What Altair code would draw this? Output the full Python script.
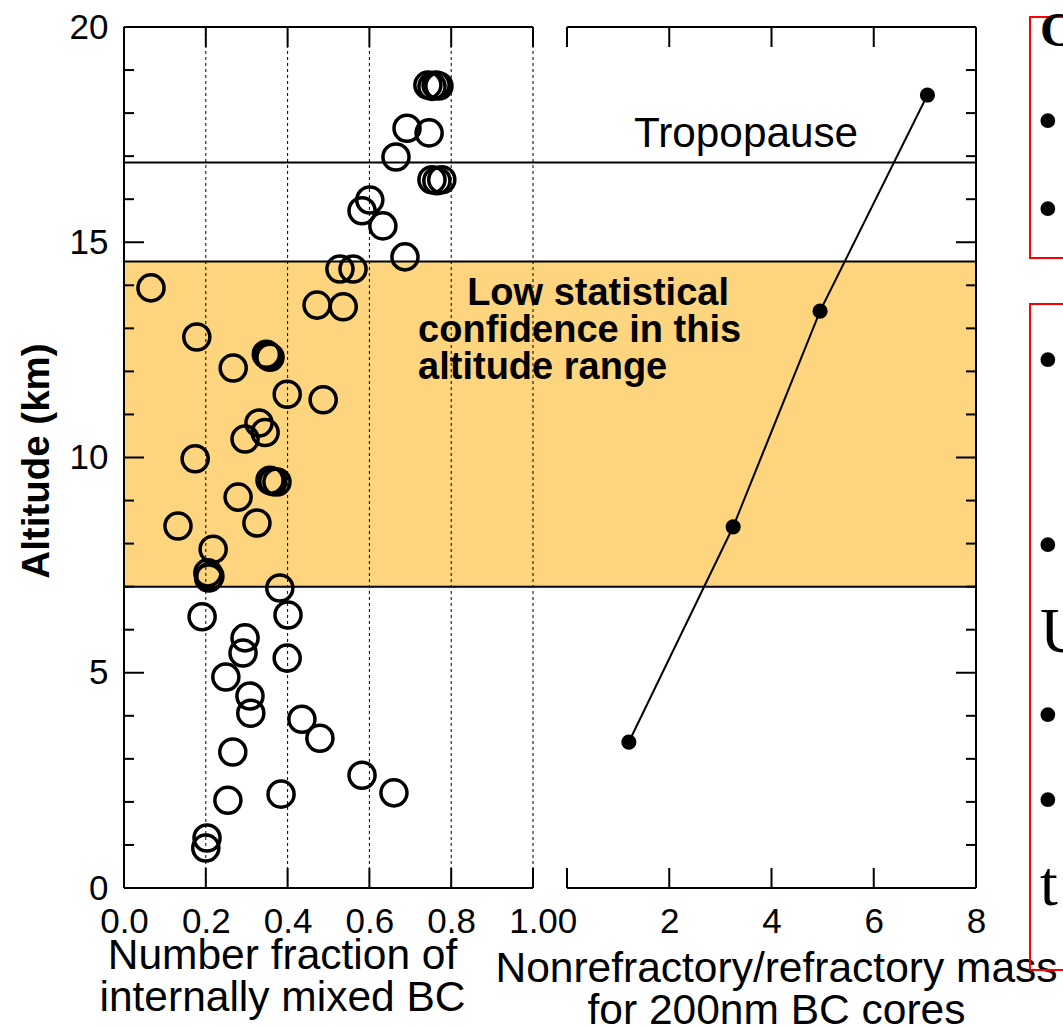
import altair as alt
import pandas as pd

# Number fraction of internally mixed BC against altitude (km)
frac = [0.743, 0.753, 0.763, 0.770, 0.692, 0.746, 0.665, 0.753, 0.765, 0.777,
        0.601, 0.582, 0.633, 0.687, 0.528, 0.560, 0.472, 0.536,
        0.066, 0.178, 0.267, 0.348, 0.352, 0.357, 0.399, 0.487, 0.330, 0.345,
        0.296, 0.174, 0.357, 0.364, 0.374, 0.279, 0.325, 0.132, 0.218, 0.205,
        0.210, 0.207,
        0.381, 0.191, 0.401, 0.296, 0.291, 0.399, 0.249, 0.308, 0.310, 0.435,
        0.479, 0.266, 0.582, 0.660, 0.254, 0.384, 0.203, 0.200]
frac_alt = [18.65, 18.62, 18.65, 18.63, 17.65, 17.54, 16.98, 16.45, 16.43, 16.45,
            15.98, 15.73, 15.38, 14.66, 14.38, 14.38, 13.54, 13.50,
            13.94, 12.80, 12.08, 12.40, 12.36, 12.33, 11.47, 11.34, 10.80, 10.58,
            10.43, 9.97, 9.47, 9.44, 9.43, 9.08, 8.48, 8.41, 7.87, 7.32,
            7.24, 7.20,
            6.97, 6.30, 6.34, 5.81, 5.46, 5.34, 4.90, 4.46, 4.06, 3.92,
            3.48, 3.16, 2.62, 2.21, 2.04, 2.18, 1.16, 0.93]

# Nonrefractory/refractory mass ratio for 200 nm BC cores
ratio = [1.21, 3.25, 4.95, 7.05]
ratio_alt = [3.39, 8.39, 13.40, 18.42]

frac_ticks = [0.0, 0.2, 0.4, 0.6, 0.8, 1.0]
ratio_ticks = [0, 2, 4, 6, 8]
alt_ticks = [0, 5, 10, 15, 20]
alt_major_inner = [5, 10, 15]
alt_minor = [v for v in range(1, 20) if v % 5]

band = [7.0, 14.55]
tropopause = 16.85

band_note = ["Low statistical", "confidence in this", "altitude range"]
band_note_x = [0.839, 0.719, 0.719]
band_note_alt = [13.54, 12.68, 11.82]

frac_title = ["Number fraction of", "internally mixed BC"]
ratio_title = ["Nonrefractory/refractory mass", "for 200nm BC cores"]

# panel geometry (pixels)
PW = 409
GAP = 34
W = 2 * PW + GAP
H = 861
TICK = 20
MINOR = 10
LW = 2
FONT = "Liberation Sans"
SERIF = "Liberation Serif"
ORANGE = "#FDD57E"

FRAC = alt.Scale(domain=[0, 1], range=[0, PW], nice=False, zero=False)
RATIO = alt.Scale(domain=[0, 8], range=[PW + GAP, W], nice=False, zero=False)
ALT = alt.Scale(domain=[0, 20], nice=False, zero=False)

# one altitude axis shared by every layer on the altitude scale
Y_AXIS = alt.Axis(
    values=alt_ticks, orient="left", ticks=False, tickSize=0, domain=False,
    grid=False, labelFont=FONT, labelFontSize=35, labelPadding=16,
    labelColor="black", labelOverlap=False, labelFlush=False,
    title="Altitude (km)", titleFont=FONT, titleFontSize=38.5,
    titleFontWeight="bold", titleColor="black", titleAngle=270,
    titleX=-76, titleY=H / 2 + 3, titleAlign="center", titleBaseline="alphabetic")


def yq(field):
    return alt.Y(field, type="quantitative", scale=ALT, axis=Y_AXIS)


def fx(field):
    return alt.X(field, type="quantitative", scale=FRAC, axis=None)


def rx(field):
    return alt.X(field, type="quantitative", scale=RATIO, axis=None)


def px(field):
    return alt.X(field, type="quantitative", scale=None, axis=None)


def py(field):
    return alt.Y(field, type="quantitative", scale=None, axis=None)


scatter_df = pd.DataFrame({"frac": frac, "alt": frac_alt})
ratio_df = pd.DataFrame({"ratio": ratio, "alt": ratio_alt})
band_df = pd.DataFrame({"lo": [band[0]], "hi": [band[1]]})
edges_df = pd.DataFrame({"alt": band + [tropopause]})
grid_df = pd.DataFrame({"f": frac_ticks[1:]})
ltick_df = pd.DataFrame({"f": frac_ticks[1:]})
rtick_df = pd.DataFrame({"r": ratio_ticks[:-1]})
ymaj_df = pd.DataFrame({"alt": alt_major_inner})
ymin_df = pd.DataFrame({"alt": alt_minor})
frame_df = pd.DataFrame({"alt": [0, 20]})
note_df = pd.DataFrame({"t": band_note, "f": band_note_x, "alt": band_note_alt})
trop_df = pd.DataFrame({"t": ["Tropopause"], "r": [1.31], "alt": [17.21]})

band_layer = alt.Chart(band_df).mark_rect(color=ORANGE).encode(
    x=alt.value(0), x2=alt.value(W), y=yq("lo"), y2="hi")

edges = alt.Chart(edges_df).mark_rule(color="black", strokeWidth=LW).encode(
    x=alt.value(0), x2=alt.value(W), y=yq("alt"))

grid = alt.Chart(grid_df).mark_rule(color="black", strokeWidth=1, strokeDash=[3, 3]).encode(
    x=fx("f"), y=alt.value(0), y2=alt.value(H))

# frame of the left panel
left_h = alt.Chart(frame_df).mark_rule(color="black", strokeWidth=LW).encode(
    x=alt.value(0), x2=alt.value(PW), y=yq("alt"))
left_v = alt.Chart(frame_df.head(1)).mark_rule(color="black", strokeWidth=LW).encode(
    x=alt.value(0), y=alt.value(0), y2=alt.value(H))
# frame of the right panel
right_h = alt.Chart(frame_df).mark_rule(color="black", strokeWidth=LW).encode(
    x=alt.value(PW + GAP), x2=alt.value(W), y=yq("alt"))
right_v = alt.Chart(frame_df.head(1)).mark_rule(color="black", strokeWidth=LW).encode(
    x=alt.value(W), y=alt.value(0), y2=alt.value(H))

# inward ticks
lt_top = alt.Chart(ltick_df).mark_rule(color="black", strokeWidth=LW).encode(
    x=fx("f"), y=alt.value(0), y2=alt.value(TICK))
lt_bot = alt.Chart(ltick_df).mark_rule(color="black", strokeWidth=LW).encode(
    x=fx("f"), y=alt.value(H - TICK), y2=alt.value(H))
rt_top = alt.Chart(rtick_df).mark_rule(color="black", strokeWidth=LW).encode(
    x=rx("r"), y=alt.value(0), y2=alt.value(TICK))
rt_bot = alt.Chart(rtick_df).mark_rule(color="black", strokeWidth=LW).encode(
    x=rx("r"), y=alt.value(H - TICK), y2=alt.value(H))
ymaj_l = alt.Chart(ymaj_df).mark_rule(color="black", strokeWidth=LW).encode(
    x=alt.value(0), x2=alt.value(TICK), y=yq("alt"))
ymaj_r = alt.Chart(ymaj_df).mark_rule(color="black", strokeWidth=LW).encode(
    x=alt.value(W - TICK), x2=alt.value(W), y=yq("alt"))
ymin_l = alt.Chart(ymin_df).mark_rule(color="black", strokeWidth=LW).encode(
    x=alt.value(0), x2=alt.value(MINOR), y=yq("alt"))
ymin_r = alt.Chart(ymin_df).mark_rule(color="black", strokeWidth=LW).encode(
    x=alt.value(W - MINOR), x2=alt.value(W), y=yq("alt"))

scatter = alt.Chart(scatter_df).mark_point(
    shape="circle", filled=False, size=680, strokeWidth=3.5, color="black", opacity=1
).encode(
    x=alt.X("frac:Q", scale=FRAC, axis=alt.Axis(
        values=frac_ticks, format=".1f", orient="bottom", ticks=False, tickSize=0,
        domain=False, grid=False, labelFont=FONT, labelFontSize=35, labelPadding=16,
        labelColor="black", labelFlush=False, labelOverlap=False,
        title=frac_title, titleFont=FONT, titleFontSize=42.5, titleFontWeight="normal",
        titleColor="black", titleX=158, titleY=80, titleAlign="center",
        titleBaseline="alphabetic", titleLineHeight=42)),
    y=yq("alt"),
)

ratio_line = alt.Chart(ratio_df).mark_line(color="black", strokeWidth=2).encode(
    x=alt.X("ratio:Q", scale=RATIO, axis=alt.Axis(
        values=ratio_ticks, format="d", orient="bottom", ticks=False, tickSize=0,
        domain=False, grid=False, labelFont=FONT, labelFontSize=35, labelPadding=16,
        labelColor="black", labelFlush=False, labelOverlap=False,
        title=ratio_title, titleFont=FONT, titleFontSize=42.5, titleFontWeight="normal",
        titleColor="black", titleX=652, titleY=93, titleAlign="center",
        titleBaseline="alphabetic", titleLineHeight=42)),
    y=yq("alt"),
)
ratio_pts = alt.Chart(ratio_df).mark_point(
    shape="circle", filled=True, size=230, color="black", opacity=1
).encode(x=rx("ratio"), y=yq("alt"))

note = alt.Chart(note_df).mark_text(
    align="left", baseline="alphabetic", font=FONT, fontSize=38,
    fontWeight="bold", color="black"
).encode(x=fx("f"), y=yq("alt"), text="t:N")

trop = alt.Chart(trop_df).mark_text(
    align="left", baseline="alphabetic", font=FONT, fontSize=42.3, color="black"
).encode(x=rx("r"), y=yq("alt"), text="t:N")

# neighbouring slide boxes at the right edge
box_df = pd.DataFrame({"x0": [906, 906], "x1": [990, 990], "y0": [-10, 277], "y1": [231, 943]})
boxes = alt.Chart(box_df).mark_rect(filled=False, stroke="#FF0000", strokeWidth=2).encode(
    x=px("x0"), x2="x1:Q", y=py("y0"), y2="y1:Q")

box_text_df = pd.DataFrame({
    "t": ["C", "•", "•", "•", "•", "U", "•", "•", "t"],
    "px": [916, 913, 913, 913, 913, 916, 913, 913, 916],
    "py": [19, 95, 183, 334, 519, 625, 689, 774, 878],
})
box_text_top = alt.Chart(box_text_df[box_text_df["t"] == "C"]).mark_text(
    align="left", baseline="alphabetic", font=SERIF, fontSize=48, fontWeight="bold",
    color="black"
).encode(x=px("px"), y=py("py"), text="t:N")
box_text_bul = alt.Chart(box_text_df[box_text_df["t"] == "•"]).mark_text(
    align="left", baseline="middle", font=SERIF, fontSize=62, color="black"
).encode(x=px("px"), y=py("py"), text="t:N")
box_text_let = alt.Chart(box_text_df[box_text_df["t"].isin(["U", "t"])]).mark_text(
    align="left", baseline="alphabetic", font=SERIF, fontSize=64, color="black"
).encode(x=px("px"), y=py("py"), text="t:N")

chart = alt.layer(
    band_layer, grid, edges, left_h, left_v, right_h, right_v,
    lt_top, lt_bot, rt_top, rt_bot, ymaj_l, ymaj_r, ymin_l, ymin_r,
    scatter, ratio_line, ratio_pts, note, trop,
    boxes, box_text_top, box_text_bul, box_text_let,
).resolve_scale(x="independent").properties(
    width=W, height=H,
    autosize=alt.AutoSizeParams(type="none"),
    padding={"left": 124, "top": 27, "right": 87, "bottom": 140},
    background="white",
).configure_view(stroke=None)

chart.save("out.html", embed_options={"renderer": "svg", "actions": False})
